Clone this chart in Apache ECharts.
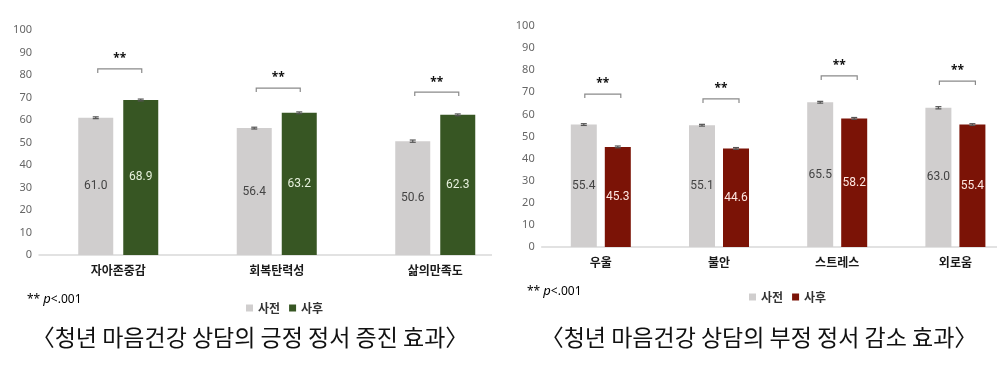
<!DOCTYPE html>
<html><head><meta charset="utf-8">
<script src="https://cdn.jsdelivr.net/npm/echarts@6/dist/echarts.min.js"></script>
<style>
html,body{margin:0;padding:0;background:#fff;width:997px;height:368px;overflow:hidden;}
.clip{position:absolute;top:0;height:368px;overflow:hidden;}
#lc{left:0;width:492px;}
#rc{left:492px;width:505px;}
#l{position:absolute;left:0;top:0;width:540px;height:368px;}
#r{position:absolute;left:0;top:0;width:540px;height:368px;}
</style></head><body>
<div id="lc" class="clip"><div id="l"></div></div>
<div id="rc" class="clip"><div id="r"></div></div>
<script>
// ---- data ----
const posCategories = ['자아존중감', '회복탄력성', '삶의만족도'];
const posPre = [61.0, 56.4, 50.6];
const posPost = [68.9, 63.2, 62.3];
const posErrPre = [0.4, 0.4, 0.5];
const posErrPost = [0.4, 0.4, 0.4];
const posBracket = [82.7, 74.2, 72.4];

const negCategories = ['우울', '불안', '스트레스', '외로움'];
const negPre = [55.4, 55.1, 65.5, 63.0];
const negPost = [45.3, 44.6, 58.2, 55.4];
const negErrPre = [0.4, 0.4, 0.4, 0.5];
const negErrPost = [0.4, 0.4, 0.4, 0.4];
const negBracket = [69.2, 67.0, 77.4, 75.1];

const yTicks = {min: 0, max: 100, interval: 10};
const legendNames = ['사전', '사후'];
const titlePos = '〈청년 마음건강 상담의 긍정 정서 증진 효과〉';
const titleNeg = '〈청년 마음건강 상담의 부정 정서 감소 효과〉';

const FONT = "'Noto Sans', 'Noto Sans CJK KR', sans-serif";
const NFONT = "Roboto, 'Noto Sans', sans-serif";
const KFONT = "'Noto Sans CJK KR', 'Noto Sans', sans-serif";
const GRAY = '#d0cece';

function errSeries(vals, errs, offset) {
  return {
    type: 'custom', z: 5, silent: true,
    data: vals.map((v, i) => [i, v, errs[i]]),
    encode: {x: 0, y: 1},
    renderItem: function (params, api) {
      const i = api.value(0), v = api.value(1), e = api.value(2);
      const x = api.coord([i, v])[0] + offset;
      const yt = api.coord([i, v + e])[1];
      const yb = api.coord([i, v - e])[1];
      const st = {stroke: '#555', lineWidth: 1.2};
      return {type: 'group', children: [
        {type: 'line', shape: {x1: x, y1: yt, x2: x, y2: yb}, style: st},
        {type: 'line', shape: {x1: x - 3, y1: yt, x2: x + 3, y2: yt}, style: st},
        {type: 'line', shape: {x1: x - 3, y1: yb, x2: x + 3, y2: yb}, style: st}
      ]};
    }
  };
}

function bracketSeries(levels, half, shift) {
  return {
    type: 'custom', z: 5, silent: true,
    data: levels.map((v, i) => [i, v]),
    encode: {x: 0, y: 1},
    renderItem: function (params, api) {
      const i = api.value(0), v = api.value(1);
      const p = api.coord([i, v]);
      const cx = p[0] + shift, y = p[1];
      return {type: 'group', children: [
        {type: 'polyline', shape: {points: [[cx - half, y + 4], [cx - half, y], [cx + half, y], [cx + half, y + 4]]},
         style: {stroke: '#8a8a8a', lineWidth: 1.2, fill: null}},
        {type: 'text', x: cx, y: y - 10,
         style: {text: '**', fill: '#111', font: 'bold 12px ' + FONT, textAlign: 'center', textVerticalAlign: 'middle'}}
      ]};
    }
  };
}

function build(o) {
  return {
    animation: false,
    grid: {left: o.gl, top: o.gt, width: o.gw, height: o.gh},
    legend: {
      data: legendNames, left: o.legL, top: o.legT, icon: 'rect',
      itemWidth: 7, itemHeight: 7, itemGap: 9,
      textStyle: {fontFamily: KFONT, fontSize: 12, fontWeight: 'bold', color: '#333'}
    },
    xAxis: {
      type: 'category', data: o.cats,
      axisLine: {lineStyle: {color: '#d9d9d9', width: 1.5}},
      axisTick: {show: false},
      axisLabel: {fontFamily: KFONT, fontSize: 12, fontWeight: 'bold', color: '#1a1a1a', margin: 9}
    },
    yAxis: {
      type: 'value', min: yTicks.min, max: yTicks.max, interval: yTicks.interval,
      splitLine: {show: false}, axisLine: {show: false}, axisTick: {show: false},
      axisLabel: {fontFamily: FONT, fontSize: 11, color: '#666', margin: 7}
    },
    graphic: [
      {type: 'text', left: o.noteX, top: o.noteY - 8,
       style: {text: '{a|** }{p|p}{a|<.001}', rich: {
         a: {fontFamily: FONT, fontSize: 12, color: '#222'},
         p: {fontFamily: FONT, fontSize: 13, fontStyle: 'italic', color: '#222'}}}},
      {type: 'text', x: o.titleX, y: 337,
       style: {text: o.title, font: '23px ' + KFONT, fill: '#111', textAlign: 'center', textVerticalAlign: 'middle'}}
    ],
    series: [
      {name: legendNames[0], type: 'bar', data: o.pre, barWidth: o.bw, barGap: o.gap,
       itemStyle: {color: GRAY},
       label: {show: true, position: 'inside', formatter: p => p.value.toFixed(1),
               fontFamily: NFONT, fontSize: 12, color: '#444'}},
      {name: legendNames[1], type: 'bar', data: o.post, barWidth: o.bw, barGap: o.gap,
       itemStyle: {color: o.color},
       label: {show: true, position: 'inside', formatter: p => p.value.toFixed(1),
               fontFamily: NFONT, fontSize: 12, color: o.lblColor}},
      errSeries(o.pre, o.errPre, -o.off),
      errSeries(o.post, o.errPost, o.off),
      bracketSeries(o.br, o.half, o.shift)
    ]
  };
}

const cl = echarts.init(document.getElementById('l'), null, {renderer: 'canvas'});
cl.setOption(build({
  gl: 39, gt: 30, gw: 475.5, gh: 225,
  legL: 241, legT: 297, cats: posCategories, pre: posPre, post: posPost,
  errPre: posErrPre, errPost: posErrPost, br: posBracket,
  bw: 35, gap: '28.6%', off: 22.5, half: 22, shift: 1.5,
  color: '#375623', lblColor: '#e6f0dc',
  noteX: 27, noteY: 301, titleX: 250, title: titlePos
}));

const cr = echarts.init(document.getElementById('r'), null, {renderer: 'canvas'});
cr.setOption(build({
  gl: 49.7, gt: 26, gw: 472.8, gh: 221,
  legL: 252, legT: 286, cats: negCategories, pre: negPre, post: negPost,
  errPre: negErrPre, errPost: negErrPost, br: negBracket,
  bw: 26, gap: '30.8%', off: 17, half: 18, shift: 2,
  color: '#7b1306', lblColor: '#fde6e0',
  noteX: 35, noteY: 293, titleX: 267, title: titleNeg
}));
</script>
</body></html>
